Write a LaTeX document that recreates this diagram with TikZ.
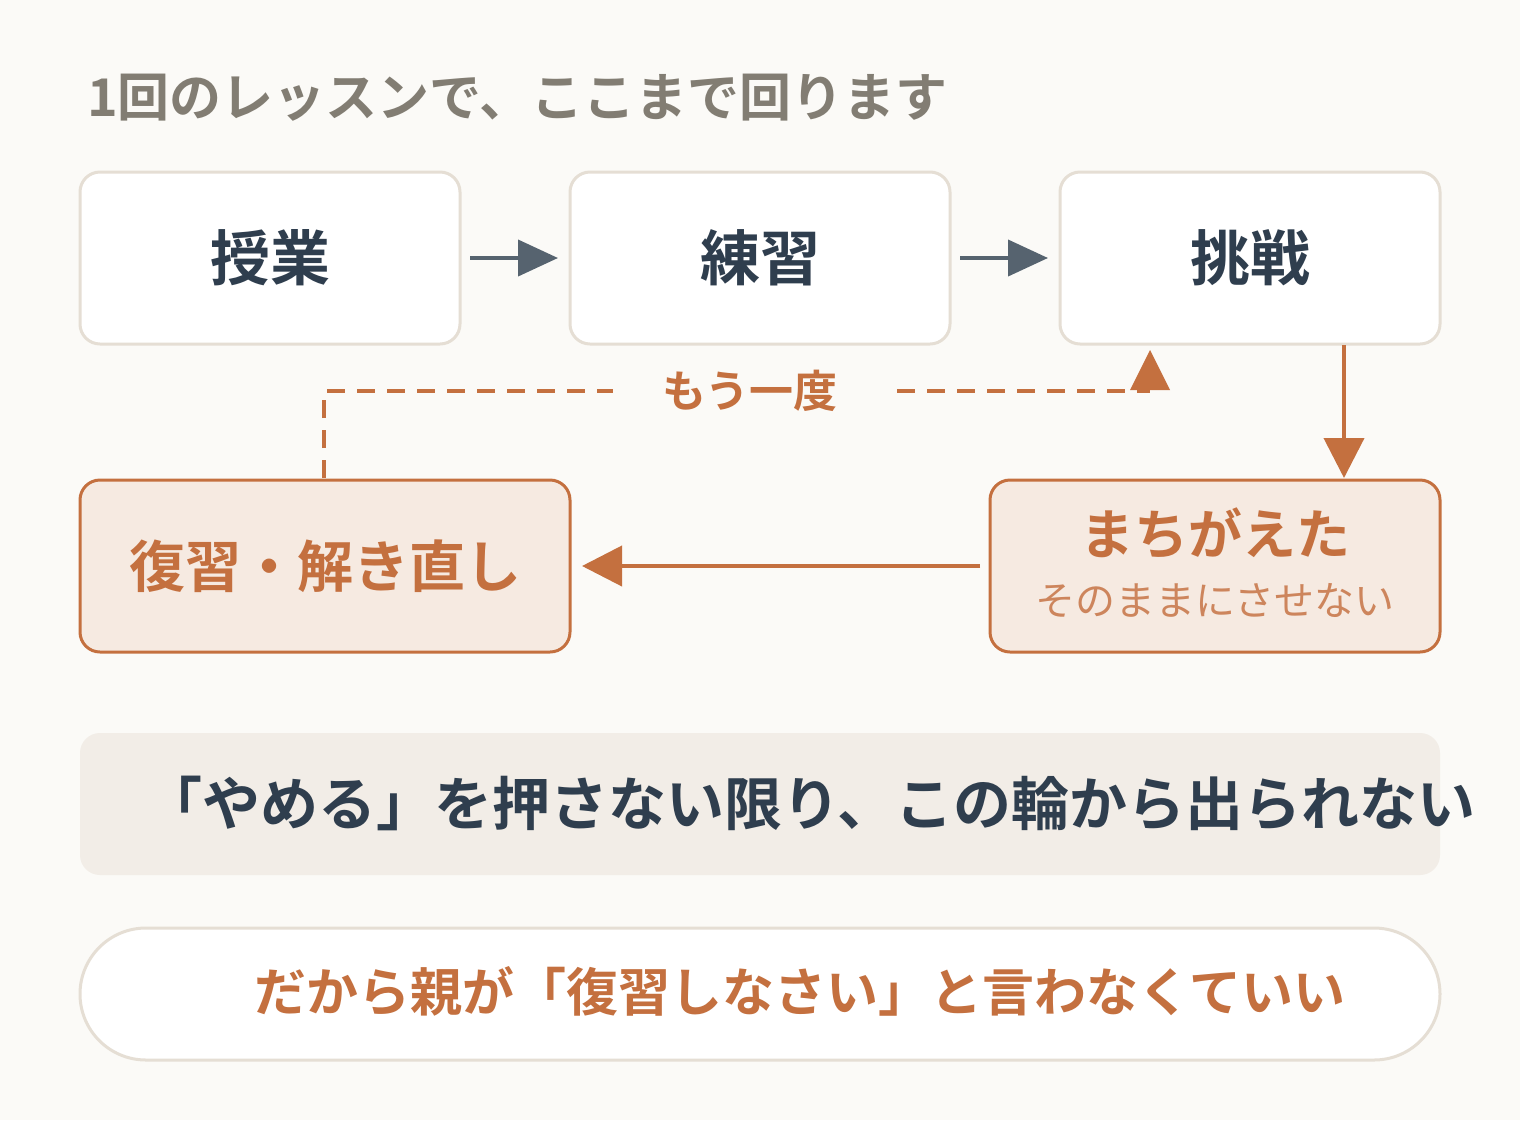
\documentclass[tikz,border=0pt]{standalone}
\usepackage{fontspec}
\newfontfamily\jp{Noto Sans CJK JP}
\newfontfamily\jpb{Noto Sans CJK JP Bold}
\usetikzlibrary{arrows.meta}
\definecolor{bg}{HTML}{FBFAF7}
\definecolor{bd}{HTML}{E5DED4}
\definecolor{dk}{HTML}{2F3E4E}
\definecolor{org}{HTML}{C4703F}
\definecolor{lorg}{HTML}{F6EAE1}
\definecolor{band}{HTML}{F2EDE7}
\definecolor{ttl}{HTML}{827D73}
\definecolor{gar}{HTML}{56636F}
\tikzset{
 box/.style={draw=bd,line width=1.5pt,fill=white,rounded corners=10pt},
 obox/.style={draw=org,line width=1.5pt,fill=lorg,rounded corners=10pt},
 gtip/.style={-{Triangle[length=20pt,width=18pt]},gar,line width=2pt},
 otip/.style={-{Triangle[length=20pt,width=20pt]},org,line width=2pt},
}
\begin{document}
\begin{tikzpicture}[x=0.5pt,y=-0.5pt]
\fill[bg] (0,0) rectangle (1520,1120);
\useasboundingbox (0,0) rectangle (1520,1120);
\node[anchor=west,text=ttl,font=\jpb\fontsize{26pt}{28pt}\selectfont] (title) at (80,98) {1回のレッスンで、ここまで回ります};
\draw[box] (80,172) rectangle (460,344); \node[text=dk,font=\jpb\fontsize{30pt}{34pt}\selectfont] (a) at (270,258) {授業};
\draw[box] (570,172) rectangle (950,344); \node[text=dk,font=\jpb\fontsize{30pt}{34pt}\selectfont] (b) at (760,258) {練習};
\draw[box] (1060,172) rectangle (1440,344); \node[text=dk,font=\jpb\fontsize{30pt}{34pt}\selectfont] (c) at (1250,258) {挑戦};
\coordinate (a1) at (470,258); \coordinate (b0) at (558,258);
\coordinate (b1) at (960,258); \coordinate (c0) at (1048,258);
\draw[gtip] (a1) -- (b0); \draw[gtip] (b1) -- (c0);
\draw[obox] (80,480) rectangle (570,652);
\node[text=org,font=\jpb\fontsize{28pt}{32pt}\selectfont] (r) at (325,566) {復習・解き直し};
\draw[obox] (990,480) rectangle (1440,652);
\node[text=org,font=\jpb\fontsize{27pt}{30pt}\selectfont] (m) at (1215,533) {まちがえた};
\node[text=org!85,font=\jp\fontsize{20pt}{24pt}\selectfont] (m2) at (1215,601) {そのままにさせない};
\coordinate (d0) at (1344,345); \coordinate (d1) at (1344,478);
\draw[otip] (d0) -- (d1);
\coordinate (l0) at (980,566); \coordinate (l1) at (582,566);
\draw[otip] (l0) -- (l1);
\coordinate (p0) at (324,478); \coordinate (p1) at (1150,391);
\draw[org,line width=2pt,dash pattern=on 9pt off 6pt] (p0) |- (p1);
\fill[org] (1150,350) -- (1170,390) -- (1130,390) -- cycle;
\node[fill=bg,inner xsep=25pt,text=org,font=\jpb\fontsize{22pt}{26pt}\selectfont] (again) at (750,391) {もう一度};
\fill[band,rounded corners=10pt] (80,733) rectangle (1440,875);
\node[text=dk,font=\jpb\fontsize{29pt}{32pt}\selectfont] (msg) at (810,803) {「やめる」を押さない限り、この輪から出られない};
\draw[box,rounded corners=33pt] (80,928) rectangle (1440,1060);
\node[text=org,font=\jpb\fontsize{26pt}{28pt}\selectfont] (bot) at (800,991) {だから親が「復習しなさい」と言わなくていい};
\end{tikzpicture}
\end{document}
